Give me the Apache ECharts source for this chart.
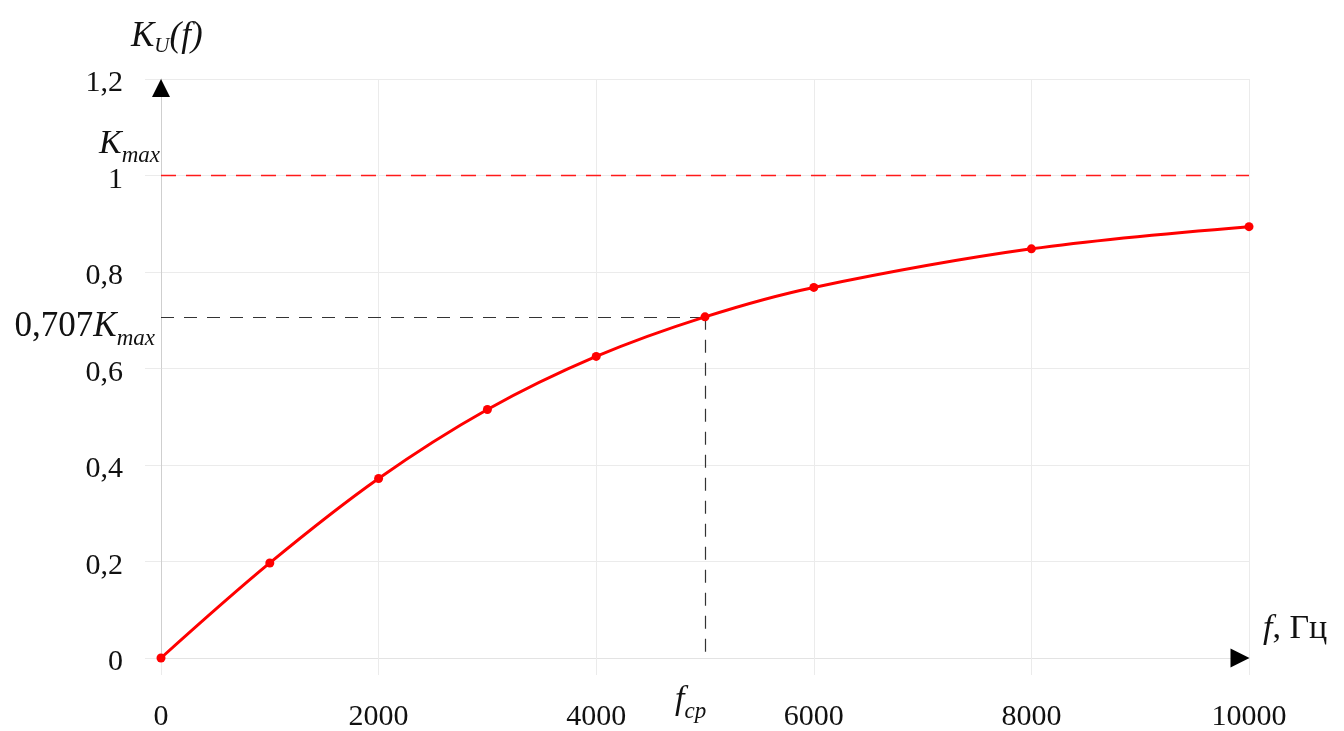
<!DOCTYPE html>
<html>
<head>
<meta charset="utf-8">
<script src="https://cdn.jsdelivr.net/npm/echarts@6/dist/echarts.min.js"></script>
<style>
  html, body { margin: 0; padding: 0; background: #ffffff; }
  #chart { width: 1344px; height: 731px; }
</style>
</head>
<body>
<div id="chart"></div>
<script>
// Frequency response K_U(f) of the stage
const freqs = [0, 1000, 2000, 3000, 4000, 5000, 6000, 8000, 10000];
const gain  = [0, 0.197, 0.372, 0.515, 0.625, 0.707, 0.768, 0.848, 0.894];

// Reference levels
const kMax = 1;
const cutoffLevel = 0.707;
const cutoffFreq = 5000;

// Axis ranges
const xRange = { min: 0, max: 10000, step: 2000 };
const yRange = { min: 0, max: 1.2, step: 0.2 };

const SERIF = '"Liberation Serif", "DejaVu Serif", serif';
const GRID_COLOR = '#ebebeb';

const chart = echarts.init(document.getElementById('chart'));

chart.setOption({
  animation: false,
  backgroundColor: '#ffffff',
  grid: {
    left: 161, right: 95, top: 79, bottom: 73,
    containLabel: false, outerBoundsMode: 'none'
  },
  xAxis: {
    type: 'value',
    min: xRange.min, max: xRange.max, interval: xRange.step,
    axisLine: { show: true, onZero: false, lineStyle: { color: '#e3e3e3', width: 1 } },
    axisTick: { show: true, length: 17, lineStyle: { color: GRID_COLOR } },
    splitLine: { show: true, lineStyle: { color: GRID_COLOR, width: 1 } },
    axisLabel: {
      margin: 44, color: '#111', fontFamily: SERIF, fontSize: 30,
      formatter: v => String(v)
    }
  },
  yAxis: {
    type: 'value',
    min: yRange.min, max: yRange.max, interval: yRange.step,
    axisLine: { show: true, lineStyle: { color: '#cfcfcf', width: 1 } },
    axisTick: { show: true, length: 16, lineStyle: { color: GRID_COLOR } },
    splitLine: { show: true, lineStyle: { color: GRID_COLOR, width: 1 } },
    axisLabel: {
      margin: 38, color: '#111', fontFamily: SERIF, fontSize: 30,
      verticalAlign: 'top', lineHeight: 9,
      formatter: v => String(Math.round(v * 10) / 10).replace('.', ',')
    }
  },
  series: [
    {
      type: 'line',
      name: 'K_U(f)',
      data: freqs.map((f, i) => [f, gain[i]]),
      smooth: 0.35,
      symbol: 'circle',
      symbolSize: 9,
      itemStyle: { color: '#ff0000' },
      lineStyle: { color: '#ff0000', width: 3 },
      z: 5,
      markLine: {
        silent: true,
        symbol: ['none', 'none'],
        label: { show: false },
        data: [
          [
            { coord: [xRange.min, kMax], lineStyle: { color: '#ff1a1a', type: [15, 10], width: 1.4 } },
            { coord: [xRange.max, kMax] }
          ],
          [
            { coord: [xRange.min, cutoffLevel], lineStyle: { color: '#333', type: [13, 10], width: 1.2 } },
            { coord: [cutoffFreq, cutoffLevel] }
          ],
          [
            { coord: [cutoffFreq, cutoffLevel], lineStyle: { color: '#333', type: [13, 10], width: 1.2 } },
            { coord: [cutoffFreq, yRange.min] }
          ]
        ]
      },
      markPoint: {
        silent: true,
        label: { show: false },
        itemStyle: { color: '#000' },
        data: [
          { coord: [xRange.min, yRange.max], symbol: 'triangle', symbolSize: [18, 18], symbolOffset: [0, 9] },
          { coord: [xRange.max, yRange.min], symbol: 'triangle', symbolSize: [19, 19], symbolOffset: [-9, 0], symbolRotate: -90 }
        ]
      }
    }
  ]
});

// Formula-style annotations placed from the axis scales
const px = (x, y) => chart.convertToPixel({ gridIndex: 0 }, [x, y]);
const topPt = px(xRange.min, yRange.max);
const kPt = px(xRange.min, kMax);
const cPt = px(xRange.min, cutoffLevel);
const fPt = px(cutoffFreq, yRange.min);
const endPt = px(xRange.max, yRange.min);

// n: upright, i: italic, s: italic subscript pushed below the baseline
const richK = (size, subSize, subDrop) => ({
  n: { fontFamily: SERIF, fontSize: size, lineHeight: size, fill: '#111' },
  i: { fontFamily: SERIF, fontSize: size, lineHeight: size, fontStyle: 'italic', fill: '#111' },
  s: {
    fontFamily: SERIF, fontSize: subSize, lineHeight: 1, fontStyle: 'italic', fill: '#111',
    verticalAlign: 'top', padding: [subDrop, 0, 0, 0]
  }
});

chart.setOption({
  graphic: [
    {
      type: 'text', silent: true,
      x: topPt[0] - 30, y: topPt[1] - 42,
      style: {
        text: '{i|K}{s|U}{i|(f)}',
        rich: richK(35, 21, 16),
        align: 'left', verticalAlign: 'middle'
      }
    },
    {
      type: 'text', silent: true,
      x: kPt[0] - 1, y: kPt[1] - 31,
      style: {
        text: '{i|K}{s|max}',
        rich: richK(34, 23, 17),
        align: 'right', verticalAlign: 'middle'
      }
    },
    {
      type: 'text', silent: true,
      x: cPt[0] - 6, y: cPt[1] + 10,
      style: {
        text: '{n|0,707}{i|K}{s|max}',
        rich: richK(35, 23, 18),
        align: 'right', verticalAlign: 'middle'
      }
    },
    {
      type: 'text', silent: true,
      x: fPt[0] - 30, y: fPt[1] + 42,
      style: {
        text: '{i|f}{s|cp}',
        rich: richK(34, 23, 17),
        align: 'left', verticalAlign: 'middle'
      }
    },
    {
      type: 'text', silent: true,
      x: endPt[0] + 14, y: endPt[1] - 29,
      style: {
        text: '{i|f}{n|, Гц}',
        rich: richK(34, 22, 16),
        align: 'left', verticalAlign: 'middle'
      }
    }
  ]
});
</script>
</body>
</html>
